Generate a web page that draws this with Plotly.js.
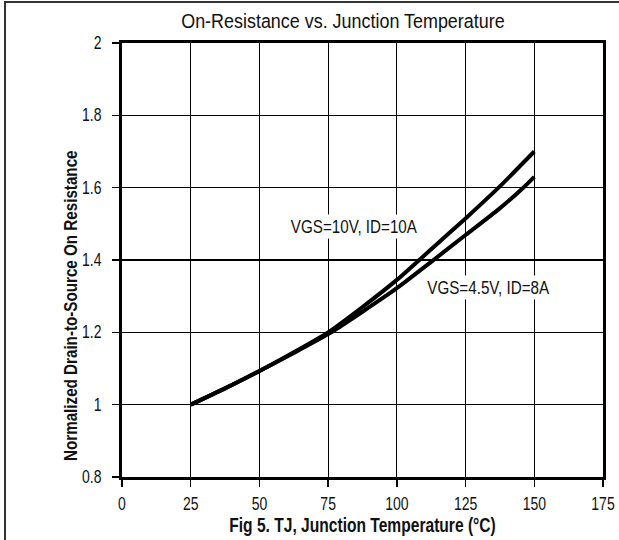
<!DOCTYPE html>
<html>
<head>
<meta charset="utf-8">
<script src="https://cdn.plot.ly/plotly-3.0.1.min.js"></script>
<style>
html,body{margin:0;padding:0;background:#fff;}
#wrap{position:relative;width:619px;height:540px;}
#chart{width:619px;height:540px;}
#bl{position:absolute;left:4px;top:1px;width:2px;height:539px;background:#333;}
#bt{position:absolute;left:4px;top:1px;width:615px;height:2px;background:#333;}
</style>
</head>
<body>
<div id="wrap">
<div id="chart"></div>
<div id="bl"></div><div id="bt"></div>
</div>
<script>
// Data
const tempVGS10 = [25, 37.5, 50, 62.5, 75, 87.5, 100, 112.5, 125, 137, 150];
const rdsVGS10  = [1.0, 1.045, 1.093, 1.145, 1.20, 1.27, 1.345, 1.43, 1.515, 1.60, 1.70];
const tempVGS45 = [25, 37.5, 50, 62.5, 75, 87.5, 100, 112.5, 125, 137, 146, 150];
const rdsVGS45  = [1.0, 1.045, 1.093, 1.143, 1.195, 1.257, 1.322, 1.395, 1.469, 1.54, 1.60, 1.63];
const xTicks = [0, 25, 50, 75, 100, 125, 150, 175];
const yTicks = [0.8, 1, 1.2, 1.4, 1.6, 1.8, 2];
const yTickText = ["0.8", "1", "1.2", "1.4", "1.6", "1.8", "2"];
const label10 = "VGS=10V, ID=10A";
const label45 = "VGS=4.5V, ID=8A";

const FONT = '"Liberation Sans Narrow", "Arial Narrow", "Liberation Sans", Arial, sans-serif';
const CONDENSE = 0.8;
const CONDENSE_TITLE = 0.92;

const traces = [
  {x: tempVGS10, y: rdsVGS10, mode: 'lines', line: {color: '#000', width: 4, shape: 'spline', smoothing: 0.6}, hoverinfo: 'skip', showlegend: false},
  {x: tempVGS45, y: rdsVGS45, mode: 'lines', line: {color: '#000', width: 4, shape: 'spline', smoothing: 0.6}, hoverinfo: 'skip', showlegend: false}
];

const layout = {
  width: 619, height: 540,
  margin: {l: 122, r: 16, t: 43, b: 63},
  paper_bgcolor: '#fff', plot_bgcolor: '#fff',
  font: {family: FONT, color: '#111', size: 16},
  showlegend: false,
  title: {text: 'On-Resistance vs. Junction Temperature', font: {family: FONT, size: 19.5, color: '#111'},
          xref: 'container', x: 0.554, xanchor: 'center', yref: 'container', y: 0.96, yanchor: 'middle'},
  xaxis: {
    range: [0, 175], tickvals: xTicks, ticktext: xTicks.map(String),
    showgrid: true, gridcolor: '#000', gridwidth: 1.2,
    showline: true, linecolor: '#000', linewidth: 3, mirror: true,
    ticks: 'outside', ticklen: 7, tickwidth: 1.5, tickcolor: '#000',
    ticklabelstandoff: 2,
    tickfont: {family: FONT, size: 17.5, color: '#111'},
    zeroline: false,
    title: {text: '<b>Fig 5. TJ, Junction Temperature (°C)</b>', font: {family: FONT, size: 19.5, color: '#111'}, standoff: 1}
  },
  yaxis: {
    range: [0.8, 2], tickvals: yTicks, ticktext: yTickText,
    showgrid: true, gridcolor: '#000', gridwidth: 1.2,
    showline: true, linecolor: '#000', linewidth: 3, mirror: true,
    ticks: 'outside', ticklen: 7, tickwidth: 1.5, tickcolor: '#000',
    ticklabelstandoff: 7,
    tickfont: {family: FONT, size: 17.5, color: '#111'},
    zeroline: false
  },
  annotations: [
    {text: label10, x: 84.4, y: 1.492, xref: 'x', yref: 'y', showarrow: false, bgcolor: '#fff', borderpad: 1, font: {family: FONT, size: 19, color: '#111'}, xanchor: 'center', yanchor: 'middle'},
    {text: label45, x: 133.4, y: 1.325, xref: 'x', yref: 'y', showarrow: false, bgcolor: '#fff', borderpad: 1, font: {family: FONT, size: 19, color: '#111'}, xanchor: 'center', yanchor: 'middle'},
    {text: '<b>Normalized Drain-to-Source On Resistance</b>', xref: 'paper', yref: 'paper',
     x: (70 - 122) / 481, y: (477 - 306) / 434, textangle: -90, showarrow: false,
     font: {family: FONT, size: 19, color: '#111'}, xanchor: 'center', yanchor: 'middle'}
  ]
};

Plotly.newPlot('chart', traces, layout, {staticPlot: true, displayModeBar: false}).then(function (gd) {
  // Emulate a narrow (condensed) face: no narrow font is installed
  gd.querySelectorAll('svg text').forEach(function (t) {
    const s = t.classList.contains('gtitle') ? CONDENSE_TITLE : CONDENSE;
    const x = parseFloat(t.getAttribute('x')) || 0;
    const y = parseFloat(t.getAttribute('y')) || 0;
    const tr = t.getAttribute('transform') || '';
    t.setAttribute('transform', tr + ' translate(' + x + ',' + y + ') scale(' + s + ',1) translate(' + (-x) + ',' + (-y) + ')');
  });
  gd.querySelectorAll('g.annotation rect.bg').forEach(function (r) {
    const x = parseFloat(r.getAttribute('x')) || 0;
    const w = parseFloat(r.getAttribute('width')) || 0;
    const nw = w * CONDENSE;
    r.setAttribute('x', x + (w - nw) / 2);
    r.setAttribute('width', nw);
  });
});
</script>
</body>
</html>
